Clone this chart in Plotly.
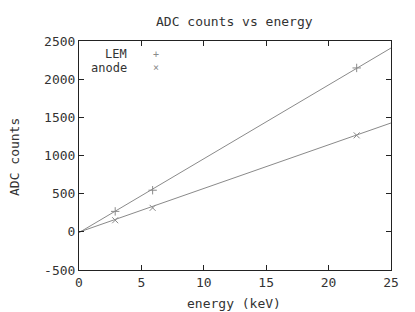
import plotly.graph_objects as go

energy = [2.9, 5.9, 22.25]
lem_counts = [268, 545, 2147]
anode_counts = [152, 314, 1264]
fit_energy = [0, 25]
lem_fit = [-10, 2408]
anode_fit = [-4, 1426]
x_ticks = [0, 5, 10, 15, 20, 25]
y_ticks = [-500, 0, 500, 1000, 1500, 2000, 2500]

FONT = "DejaVu Sans Mono"
GRAY = "#8a8a8a"
TXT = "#333"
W, H = 415, 312
L, R, T, B = 79, 24, 41, 42

fig = go.Figure()
fig.add_trace(go.Scatter(x=fit_energy, y=lem_fit, mode="lines",
                         line=dict(color=GRAY, width=1), showlegend=False))
fig.add_trace(go.Scatter(x=fit_energy, y=anode_fit, mode="lines",
                         line=dict(color=GRAY, width=1), showlegend=False))
fig.add_trace(go.Scatter(x=energy, y=lem_counts, mode="markers",
                         marker=dict(symbol="cross-thin", size=6,
                                     line=dict(color=GRAY, width=1)),
                         showlegend=False))
fig.add_trace(go.Scatter(x=energy, y=anode_counts, mode="markers",
                         marker=dict(symbol="x-thin", size=6,
                                     line=dict(color=GRAY, width=1)),
                         showlegend=False))

axis_common = dict(showgrid=False, zeroline=False, showline=True, mirror="ticks",
                   linecolor="#222", linewidth=1, ticks="inside", ticklen=5,
                   tickcolor="#222", automargin=False,
                   tickfont=dict(family=FONT, size=13, color=TXT))
fig.update_xaxes(range=[0, 25], tickvals=x_ticks, ticktext=[str(v) for v in x_ticks],
                 **axis_common)
fig.update_yaxes(range=[-500, 2500], tickvals=y_ticks, ticktext=[str(v) for v in y_ticks],
                 **axis_common)

pw = W - L - R
ph = H - T - B


def px(x):
    return (x - L) / pw


def py(y):
    return 1 - (y - T) / ph


ann = []
ann.append(dict(text="ADC counts vs energy", x=px(234), y=py(21), xref="paper", yref="paper",
                showarrow=False, xanchor="center", yanchor="middle",
                font=dict(family=FONT, size=13, color=TXT)))
ann.append(dict(text="energy (keV)", x=px(234), y=py(303), xref="paper", yref="paper",
                showarrow=False, xanchor="center", yanchor="middle",
                font=dict(family=FONT, size=13, color=TXT)))
ann.append(dict(text="ADC counts", x=px(14), y=py(157), xref="paper", yref="paper",
                showarrow=False, xanchor="center", yanchor="middle", textangle=-90,
                font=dict(family=FONT, size=13, color=TXT)))
ann.append(dict(text="LEM", x=px(129), y=py(54), xref="paper", yref="paper",
                showarrow=False, xanchor="right", yanchor="middle",
                font=dict(family=FONT, size=12, color=TXT)))
ann.append(dict(text="anode", x=px(129), y=py(68), xref="paper", yref="paper",
                showarrow=False, xanchor="right", yanchor="middle",
                font=dict(family=FONT, size=12, color=TXT)))
ann.append(dict(text="+", x=px(156), y=py(54), xref="paper", yref="paper",
                showarrow=False, xanchor="center", yanchor="middle",
                font=dict(family=FONT, size=10, color=GRAY)))
ann.append(dict(text="×", x=px(156), y=py(68), xref="paper", yref="paper",
                showarrow=False, xanchor="center", yanchor="middle",
                font=dict(family=FONT, size=10, color=GRAY)))

fig.update_layout(width=W, height=H, margin=dict(l=L, r=R, t=T, b=B, autoexpand=False),
                  paper_bgcolor="white", plot_bgcolor="white", showlegend=False,
                  annotations=ann)
fig.write_html("out.html", config={"displayModeBar": False},
               post_script="document.body.style.margin='0';document.body.style.overflow='hidden';")
